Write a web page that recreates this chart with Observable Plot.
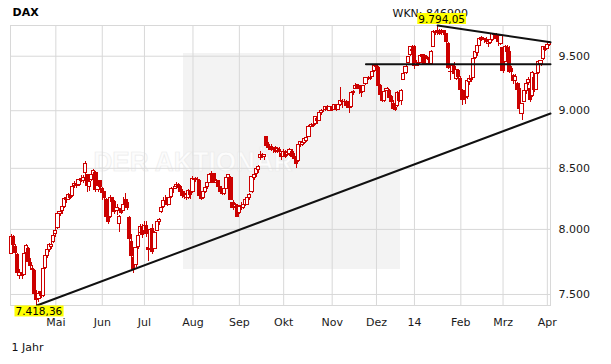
<!DOCTYPE html>
<html><head><meta charset="utf-8">
<script src="https://cdn.jsdelivr.net/npm/d3@7"></script>
<script src="https://cdn.jsdelivr.net/npm/@observablehq/plot@0.6"></script>
<style>body{margin:0;background:#fff}svg{display:block}</style>
</head><body><div id="chart"></div>
<script>
// [day, open, high, low, close]
const apr13 = [[2,7810,7960,7800,7943],[3,7940,7950,7860,7874],[4,7860,7880,7780,7818],[5,7800,7810,7640,7658],[8,7640,7690,7610,7662],[9,7665,7700,7610,7637],[10,7650,7820,7640,7810],[11,7815,7885,7790,7871],[12,7850,7860,7730,7744],[15,7740,7770,7690,7712],[16,7690,7720,7640,7682],[17,7680,7690,7490,7503],[18,7500,7530,7418.36,7459],[19,7470,7520,7440,7505],[22,7520,7560,7470,7490],[23,7490,7700,7480,7690],[24,7700,7800,7690,7790],[25,7790,7850,7770,7840],[26,7840,7890,7820,7875],[29,7860,7895,7840,7880],[30,7900,7960,7890,7950]];
const may13 = [[2,7960,8010,7940,7990],[3,8010,8130,8000,8122],[6,8120,8150,8100,8143],[7,8150,8190,8120,8181],[8,8180,8250,8170,8249],[9,8250,8270,8210,8235],[10,8240,8290,8230,8278],[13,8270,8290,8240,8255],[14,8270,8350,8260,8348],[15,8350,8390,8330,8369],[16,8370,8380,8330,8352],[17,8360,8410,8350,8399],[20,8410,8440,8380,8394],[21,8390,8440,8370,8421],[22,8460,8557,8440,8535],[23,8440,8450,8300,8352],[24,8340,8395,8310,8383],[27,8400,8450,8390,8445],[28,8440,8490,8430,8480],[29,8460,8470,8300,8320],[30,8320,8370,8300,8350],[31,8390,8400,8320,8348]];
const jun13 = [[3,8330,8340,8230,8295],[4,8300,8310,8230,8250],[5,8240,8250,8090,8100],[6,8090,8130,8040,8060],[7,8100,8270,8090,8254],[10,8250,8260,8200,8221],[11,8220,8230,8120,8140],[12,8150,8200,8110,8170],[13,8040,8110,7975,8100],[14,8160,8200,8120,8130],[17,8150,8260,8140,8200],[18,8240,8290,8190,8207],[19,8210,8240,8150,8170],[20,8090,8100,7870,7928],[21,7900,7960,7750,7790],[24,7780,7800,7655,7692],[25,7720,7870,7700,7853],[26,7860,7965,7840,7950],[27,7970,8040,7950,8020],[28,8010,8040,7930,7959]];
const jul13 = [[1,7990,8060,7980,8031],[2,8030,8060,7940,7960],[3,7855,7870,7750,7838],[4,7850,8010,7840,7995],[5,8000,8040,7800,7820],[8,7850,7980,7840,7968],[9,7990,8080,7980,8060],[10,8060,8090,8030,8074],[11,8140,8180,8130,8170],[12,8180,8260,8170,8230],[15,8230,8270,8210,8229],[16,8250,8260,8180,8200],[17,8200,8270,8190,8250],[18,8260,8340,8250,8330],[19,8330,8350,8290,8331],[22,8340,8380,8320,8360],[23,8360,8370,8300,8336],[24,8340,8360,8280,8300],[25,8300,8320,8250,8270],[26,8290,8310,8240,8260],[29,8250,8290,8230,8275],[30,8250,8320,8240,8310],[31,8300,8320,8240,8276]];
const aug13 = [[1,8300,8430,8290,8410],[2,8410,8420,8380,8400],[5,8400,8420,8380,8398],[6,8390,8410,8240,8270],[7,8280,8290,8230,8248],[8,8250,8310,8240,8300],[9,8300,8350,8290,8337],[12,8340,8380,8320,8375],[13,8380,8450,8370,8440],[14,8440,8470,8420,8455],[15,8450,8460,8370,8375],[16,8380,8410,8360,8391],[19,8390,8400,8330,8340],[20,8340,8350,8290,8300],[21,8300,8330,8270,8285],[22,8290,8340,8270,8325],[23,8330,8430,8320,8416],[26,8420,8450,8400,8440],[27,8420,8430,8230,8240],[28,8210,8230,8150,8170],[29,8180,8210,8150,8195],[30,8190,8200,8100,8103]];
const sep13 = [[2,8130,8190,8120,8180],[3,8190,8220,8150,8180],[4,8170,8210,8160,8195],[5,8200,8240,8180,8235],[6,8200,8260,8190,8255],[9,8250,8290,8230,8276],[10,8300,8430,8290,8424],[11,8420,8460,8400,8446],[12,8450,8500,8420,8495],[13,8490,8520,8460,8509],[16,8590,8640,8570,8613],[17,8610,8630,8580,8600],[18,8600,8620,8570,8610],[19,8770,8775,8680,8694],[20,8700,8720,8660,8675],[23,8680,8700,8640,8660],[24,8660,8680,8630,8665],[25,8670,8690,8630,8642],[26,8650,8680,8630,8665],[27,8660,8680,8620,8635],[30,8620,8630,8570,8594]];
const oct13 = [[1,8600,8660,8590,8640],[2,8640,8650,8580,8600],[3,8610,8650,8600,8630],[4,8620,8670,8600,8660],[7,8640,8660,8580,8600],[8,8600,8630,8540,8580],[9,8570,8590,8500,8534],[10,8560,8700,8550,8700],[11,8700,8730,8680,8724],[14,8700,8730,8690,8720],[15,8720,8760,8700,8750],[16,8730,8770,8720,8760],[17,8770,8870,8760,8860],[18,8860,8890,8850,8870],[21,8870,8890,8850,8868],[22,8880,8950,8870,8947],[23,8930,8940,8880,8907],[24,8910,8990,8900,8980],[25,8980,9010,8960,9001],[28,9000,9020,8980,9000],[29,9010,9040,8990,9030],[30,9030,9050,9000,9013],[31,9000,9040,8990,9033]];
const nov13 = [[1,9030,9040,8990,9007],[4,9010,9060,9000,9050],[5,9040,9060,8990,9010],[6,9010,9060,9000,9050],[7,9050,9208,9040,9090],[8,9080,9100,9020,9078],[11,9080,9100,9050,9075],[12,9080,9090,9030,9040],[13,9060,9070,8975,9020],[14,9030,9170,9020,9160],[15,9160,9180,9140,9168],[18,9200,9245,9190,9225],[19,9230,9240,9190,9205],[20,9220,9230,9150,9193],[21,9190,9200,9120,9160],[22,9170,9230,9160,9220],[25,9240,9300,9230,9294],[26,9290,9310,9270,9290],[27,9290,9310,9270,9299],[28,9310,9360,9300,9350],[29,9360,9410,9350,9405]];
const dec13 = [[2,9410,9424,9360,9400],[3,9390,9400,9200,9225],[4,9220,9240,9110,9140],[5,9140,9160,9070,9085],[6,9090,9180,9070,9172],[9,9180,9210,9160,9195],[10,9180,9190,9100,9115],[11,9120,9140,9060,9077],[12,9060,9090,9000,9017],[13,9020,9060,8990,9006],[16,9040,9170,9030,9163],[17,9150,9170,9070,9085],[18,9090,9190,9050,9181],[19,9280,9350,9270,9336],[20,9340,9410,9330,9400],[23,9440,9495,9430,9489],[27,9510,9594,9500,9589],[30,9560,9600,9540,9552]];
const jan14 = [[2,9590,9600,9380,9410],[3,9410,9460,9400,9435],[6,9440,9470,9400,9428],[7,9440,9510,9430,9506],[8,9510,9520,9480,9497],[9,9500,9520,9410,9422],[10,9430,9500,9420,9473],[13,9480,9530,9440,9460],[14,9430,9550,9410,9540],[15,9590,9750,9580,9733],[16,9720,9750,9700,9718],[17,9730,9794.05,9700,9742],[20,9740,9760,9700,9715],[21,9720,9760,9700,9730],[22,9740,9750,9700,9720],[23,9710,9720,9600,9632],[24,9620,9630,9380,9392],[27,9350,9400,9270,9349],[28,9350,9420,9330,9406],[29,9400,9440,9320,9336],[30,9290,9380,9270,9374],[31,9360,9380,9270,9306]];
const feb14 = [[3,9290,9310,9180,9190],[4,9180,9190,9050,9100],[5,9140,9160,9060,9116],[6,9120,9270,9100,9265],[7,9260,9320,9230,9290],[10,9280,9300,9260,9285],[11,9300,9480,9290,9478],[12,9480,9550,9470,9540],[13,9530,9610,9500,9596],[14,9600,9670,9590,9663],[17,9670,9690,9640,9656],[18,9650,9670,9620,9660],[19,9650,9680,9610,9635],[20,9620,9640,9580,9618],[21,9630,9680,9610,9657],[24,9650,9720,9640,9708],[25,9700,9720,9660,9699],[26,9690,9720,9640,9661],[27,9660,9690,9590,9631],[28,9620,9700,9600,9692]];
const mar14 = [[3,9580,9590,9340,9359],[4,9450,9600,9440,9589],[5,9580,9600,9520,9542],[6,9540,9590,9340,9351],[7,9380,9400,9300,9350],[10,9320,9330,9240,9265],[11,9270,9330,9230,9307],[12,9240,9260,9150,9188],[13,9200,9250,9000,9017],[14,8970,9060,8914,9056],[17,9080,9190,9070,9181],[18,9180,9260,9150,9243],[19,9250,9300,9230,9277],[20,9200,9230,9070,9093],[21,9130,9360,9120,9343],[24,9300,9310,9160,9189],[25,9190,9350,9180,9338],[26,9340,9460,9330,9449],[27,9430,9460,9400,9451],[28,9470,9590,9460,9587],[31,9580,9600,9540,9556]];
const apr14 = [[1,9570,9620,9560,9604],[2,9610,9640,9590,9623]];

const months = [apr13, may13, jun13, jul13, aug13, sep13, oct13, nov13, dec13, jan14, feb14, mar14, apr14];
const monthKeys = ["2013-04","2013-05","2013-06","2013-07","2013-08","2013-09","2013-10","2013-11","2013-12","2014-01","2014-02","2014-03","2014-04"];
const tickLabels = ["Mai","Jun","Jul","Aug","Sep","Okt","Nov","Dez","14","Feb","Mrz","Apr"];
const yTicks = [7500, 8000, 8500, 9000, 9500];
const lowPoint = {date: "2013-04-18", v: 7418.36};
const highPoint = {date: "2014-01-17", v: 9794.05};
// trend lines drawn on the chart: [date, value] ends (right end at chart edge)
const supportLine = [["2013-04-18", 7418.36], ["end", 8975]];
const resistLine = [["2013-11-25", 9424], ["end", 9424]];
const topLine = [["2014-01-17", 9794.05], ["end", 9632]];

const rows = [];
const monthStart = [];
months.forEach((m, k) => {
  monthStart.push(rows.length);
  m.forEach(([day, o, h, l, c]) => rows.push({i: rows.length, date: monthKeys[k] + "-" + String(day).padStart(2, "0"), o, h, l, c}));
});
const idxOf = new Map(rows.map(r => [r.date, r.i]));
const N = rows.length;
const edge = N - 0.5;
const toPts = arr => arr.map(([d, v]) => ({i: d === "end" ? edge : idxOf.get(d), v}));
const tickIdx = monthStart.slice(1);
const labelOf = new Map(tickIdx.map((d, k) => [d, tickLabels[k]]));

const de = d3.formatLocale({decimal: ",", thousands: ".", grouping: [3], currency: ["", " €"]});
const fmt = de.format(",");
const fmt2 = de.format(",.2f");
const red = "#cc0000";
const gridC = "#d8d8d8";

const lowRow = {i: idxOf.get(lowPoint.date), v: lowPoint.v};
const highRow = {i: idxOf.get(highPoint.date), v: highPoint.v};

const chart = Plot.plot({
  width: 611, height: 364,
  marginLeft: 10, marginRight: 61, marginTop: 25, marginBottom: 59,
  style: {fontFamily: "DejaVu Sans, Verdana, sans-serif", fontSize: "11px", color: "#1a1a1a", background: "white"},
  x: {type: "linear", domain: [-0.5, edge], axis: null},
  y: {type: "log", domain: [lowPoint.v, highPoint.v], axis: null},
  color: {type: "identity"},
  marks: [
    Plot.gridY(yTicks, {stroke: gridC, strokeOpacity: 1}),
    Plot.gridX(tickIdx, {stroke: gridC, strokeOpacity: 1}),
    Plot.frame({stroke: gridC}),
    Plot.text(yTicks, {y: d => d, frameAnchor: "right", textAnchor: "start", dx: 8, text: d => fmt(d), fontSize: 11, fill: "#1a1a1a"}),
    Plot.axisX(tickIdx, {anchor: "bottom", tickSize: 0, tickPadding: 13, tickFormat: d => labelOf.get(d), fontSize: 11, label: null}),
    Plot.ruleX(rows, {x: "i", y1: "l", y2: "h", stroke: red, strokeWidth: 1, shapeRendering: "crispEdges"}),
    Plot.rect(rows, {x1: d => d.i - 0.75, x2: d => d.i + 0.75, y1: "o", y2: "c", fill: d => d.c >= d.o ? "white" : red, stroke: red, strokeWidth: 1, shapeRendering: "crispEdges"}),
    Plot.line(toPts(supportLine), {x: "i", y: "v", stroke: "#111", strokeWidth: 2}),
    Plot.line(toPts(resistLine), {x: "i", y: "v", stroke: "#111", strokeWidth: 2}),
    Plot.line(toPts(topLine), {x: "i", y: "v", stroke: "#111", strokeWidth: 2}),
    Plot.text(["WKN: 846900"], {text: d => d, frameAnchor: "top-left", dx: 382, dy: -16, fontSize: 11, fill: "#111"}),
    Plot.text([lowRow], {x: "i", y: "v", text: d => fmt2(d.v), lineAnchor: "top", textAnchor: "middle", dx: 2, dy: 2, fontSize: 10.5, fill: "#000"}),
    Plot.text([highRow], {x: "i", y: "v", text: d => fmt2(d.v), lineAnchor: "bottom", textAnchor: "middle", dx: 4, dy: -3, fontSize: 10.5, fill: "#000"}),
    Plot.text(["DAX"], {text: d => d, frameAnchor: "top-left", dx: 2, dy: -17, fontSize: 11, fontWeight: "bold", fill: "#000"}),
    Plot.text(["1 Jahr"], {text: d => d, frameAnchor: "bottom-left", lineAnchor: "top", dx: 1, dy: 38, fontSize: 11, fill: "#111"})
  ]
});
document.getElementById("chart").appendChild(chart);

// watermark (logo area behind the chart)
const svg = d3.select(chart);
const styleEl = chart.querySelector("style");
const wm = document.createElementNS("http://www.w3.org/2000/svg", "g");
chart.insertBefore(wm, styleEl ? styleEl.nextSibling : chart.firstChild);
const wmg = d3.select(wm);
wmg.append("rect").attr("x", 183).attr("y", 53).attr("width", 217).attr("height", 216).attr("fill", "#f3f3f3");
wmg.append("text").attr("x", 193).attr("y", 171).attr("textLength", 199).attr("lengthAdjust", "spacingAndGlyphs")
  .attr("font-family", "Liberation Sans, Arial, sans-serif").attr("font-weight", "bold").attr("font-size", 28)
  .attr("fill", "#fcfcfc").attr("stroke", "#ebebeb").attr("stroke-width", 0.7).text("DER AKTIONÄR");

// yellow boxes behind the extreme-value labels
const hlTexts = new Set([fmt2(lowPoint.v), fmt2(highPoint.v)]);
svg.selectAll("text").filter(function() { return hlTexts.has(this.textContent); }).each(function() {
  const b = this.getBBox();
  const r = d3.select(this.parentNode).insert("rect", () => this)
    .attr("x", b.x - 1).attr("y", b.y + 0.5).attr("width", b.width + 2).attr("height", b.height - 1)
    .attr("fill", "#ffff00");
  const tr = this.getAttribute("transform");
  if (tr) r.attr("transform", tr);
  const tx = this.getAttribute("x"), ty = this.getAttribute("y");
  if (tx) r.attr("x", +tx + b.x - 1 - (+tx));
});
</script>
</body></html>
